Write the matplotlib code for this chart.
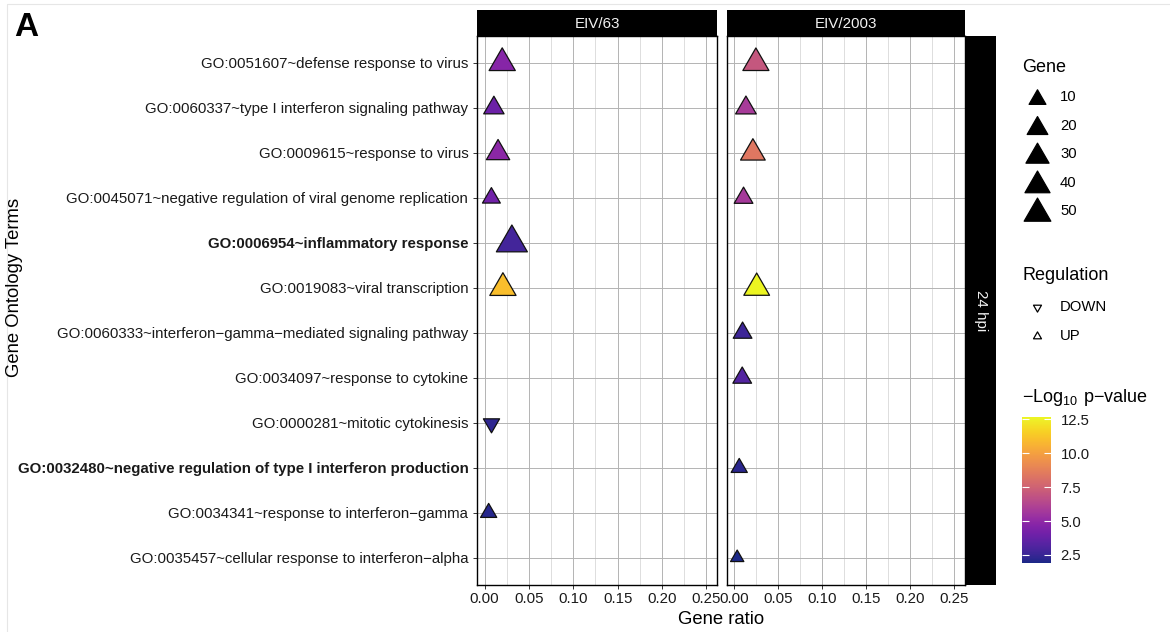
import numpy as np
import matplotlib
matplotlib.use("Agg")
import matplotlib.pyplot as plt
from matplotlib.path import Path
from matplotlib.colors import Normalize, ListedColormap
from matplotlib.cm import ScalarMappable
from matplotlib.ticker import MultipleLocator

plt.rcParams['font.family'] = ['Liberation Sans', 'DejaVu Sans']
plt.rcParams['mathtext.fontset'] = 'custom'
plt.rcParams['mathtext.rm'] = 'Liberation Sans'

nan = np.nan

terms = [
    "GO:0051607~defense response to virus",
    "GO:0060337~type I interferon signaling pathway",
    "GO:0009615~response to virus",
    "GO:0045071~negative regulation of viral genome replication",
    "GO:0006954~inflammatory response",
    "GO:0019083~viral transcription",
    "GO:0060333~interferon\u2212gamma\u2212mediated signaling pathway",
    "GO:0034097~response to cytokine",
    "GO:0000281~mitotic cytokinesis",
    "GO:0032480~negative regulation of type I interferon production",
    "GO:0034341~response to interferon\u2212gamma",
    "GO:0035457~cellular response to interferon\u2212alpha",
]
bold_terms = ["GO:0006954~inflammatory response",
              "GO:0032480~negative regulation of type I interferon production"]

panels = ["EIV/63", "EIV/2003"]
row_label = "24 hpi"

# EIV/63
eiv63_ratio = [0.0198, 0.0104, 0.0151, 0.0076, 0.0307, 0.0206, nan, nan, 0.0076, nan, 0.0045, nan]
eiv63_genes = [47, 19, 31, 12, 82, 47, nan, nan, 9, nan, 9, nan]
eiv63_logp = [4.7, 3.9, 4.9, 4.1, 2.8, 11.0, nan, nan, 2.3, nan, 2.1, nan]
eiv63_reg = ["UP", "UP", "UP", "UP", "UP", "UP", None, None, "DOWN", None, "UP", None]

# EIV/2003
eiv2003_ratio = [0.0249, 0.0136, 0.0215, 0.0109, nan, 0.0258, 0.0098, 0.0094, nan, 0.0060, nan, 0.0037]
eiv2003_genes = [46, 20, 38, 14, nan, 44, 14, 14, nan, 9, nan, 7]
eiv2003_logp = [7.0, 5.8, 8.4, 5.7, nan, 12.65, 2.6, 3.2, nan, 2.2, nan, 1.93]
eiv2003_reg = ["UP", "UP", "UP", "UP", None, "UP", "UP", "UP", None, "UP", None, "UP"]

gene_breaks = [10, 20, 30, 40, 50]
reg_levels = ["DOWN", "UP"]
logp_ticks = [2.5, 5.0, 7.5, 10.0, 12.5]
logp_lim = (1.93, 12.65)
x_ticks = [0.00, 0.05, 0.10, 0.15, 0.20, 0.25]

W, H, DPI = 1170, 632, 100
fig = plt.figure(figsize=(W / DPI, H / DPI), dpi=DPI)


def box(x0, y0, x1, y1):
    return [x0 / W, 1 - y1 / H, (x1 - x0) / W, (y1 - y0) / H]


# triangles with centroid at the point, like R pch 24/25
h = np.sqrt(3)
tri_up = Path([(0, 2 * h / 3), (-1, -h / 3), (1, -h / 3), (0, 2 * h / 3)],
              [Path.MOVETO, Path.LINETO, Path.LINETO, Path.CLOSEPOLY])
tri_down = Path([(0, -2 * h / 3), (-1, h / 3), (1, h / 3), (0, -2 * h / 3)],
                [Path.MOVETO, Path.LINETO, Path.LINETO, Path.CLOSEPOLY])
shapes = {"UP": tri_up, "DOWN": tri_down}


def gene_size(n):
    w_px = 13.3 + 17.7 * np.sqrt(np.clip((np.asarray(n, float) - 7) / 75, 0, None))
    size_pt = w_px / 0.866 / (DPI / 72)
    return size_pt ** 2


# plasma, a bit muted like the screenshot
pl = plt.get_cmap("plasma")(np.linspace(0, 1, 256))
pl[:, 1] = 0.85 * pl[:, 1] + 0.13
pl[:, 0] = 0.92 * pl[:, 0] + 0.06
cmap = ListedColormap(pl)
norm = Normalize(*logp_lim)

data = [(eiv63_ratio, eiv63_genes, eiv63_logp, eiv63_reg),
        (eiv2003_ratio, eiv2003_genes, eiv2003_logp, eiv2003_reg)]
panel_x = [(477.4, 717.2), (726.7, 965.4)]
top, bottom = 36, 584.7

ypos = np.arange(len(terms))
for k, (name, (x0, x1), (ratio, genes, logp, reg)) in enumerate(zip(panels, panel_x, data)):
    ax = fig.add_axes(box(x0, top, x1, bottom))
    ax.set_xlim(-0.0082, 0.2624)
    ax.set_ylim(len(terms) - 0.4, -0.6)
    ax.set_xticks(x_ticks)
    ax.set_xticklabels(["%.2f" % v for v in x_ticks])
    ax.xaxis.set_minor_locator(MultipleLocator(0.025))
    ax.set_yticks(ypos)
    ax.grid(True, which="major", color="#b3b3b3", lw=0.7)
    ax.grid(True, which="minor", axis="x", color="#d8d8d8", lw=0.6)
    ax.set_axisbelow(True)
    for sp in ax.spines.values():
        sp.set_color("black")
        sp.set_linewidth(1.0)
    ax.tick_params(axis="both", which="major", length=3, width=0.7, color="#333333",
                   labelsize=10.8, labelcolor="#1a1a1a", pad=2.5)
    ax.tick_params(axis="x", which="minor", length=0)
    if k == 0:
        ax.set_yticklabels(terms)
        for lab in ax.get_yticklabels():
            if lab.get_text() in bold_terms:
                lab.set_fontweight("bold")
        ax.tick_params(axis="y", pad=3.5)
    else:
        ax.tick_params(axis="y", length=0, labelleft=False)

    ratio = np.asarray(ratio, float)
    for r in reg_levels:
        m = np.array([g == r for g in reg])
        if not m.any():
            continue
        ax.scatter(ratio[m], ypos[m], s=gene_size(np.asarray(genes, float)[m]),
                   c=np.asarray(logp, float)[m], cmap=cmap, norm=norm, marker=shapes[r],
                   edgecolors="#111111", linewidths=0.9, zorder=3)

    sx = fig.add_axes(box(x0, 9.5, x1, top))
    sx.set_facecolor("black")
    sx.set_xticks([])
    sx.set_yticks([])
    for sp in sx.spines.values():
        sp.set_visible(False)
    sx.text(0.5, 0.47, name, color="#f2f2f2", fontsize=10.9, ha="center", va="center",
            transform=sx.transAxes)

rx = fig.add_axes(box(965.4, top, 995.9, bottom))
rx.set_facecolor("black")
rx.set_xticks([])
rx.set_yticks([])
for sp in rx.spines.values():
    sp.set_visible(False)
rx.text(0.5, 0.5, row_label, color="#f2f2f2", fontsize=10.9, rotation=-90,
        ha="center", va="center", transform=rx.transAxes)

# overlay for titles and legends, in pixel units
lay = fig.add_axes([0, 0, 1, 1], zorder=-1)
lay.set_xlim(0, W)
lay.set_ylim(H, 0)
lay.axis("off")
lay.plot([7, 7, W], [H, 4, 4], color="#e6e6e6", lw=0.8)
lay.text(14, 27, "A", fontsize=24, fontweight="bold", ha="left", va="center")
lay.text(15, 287, "Gene Ontology Terms", fontsize=13.3, rotation=90, ha="center", va="center")
lay.text((477.4 + 965.4) / 2, 620, "Gene ratio", fontsize=13.3, ha="center", va="center")

lay.text(1022, 67, "Gene", fontsize=13, ha="left", va="center")
for i, g in enumerate(gene_breaks):
    yy = 97 + i * 28.6
    lay.scatter([1036.7], [yy + 2], s=gene_size(g), marker=tri_up, color="black",
                edgecolor="black", linewidths=0.9)
    lay.text(1060, yy, str(g), fontsize=10.7, ha="left", va="center")

lay.text(1022, 275, "Regulation", fontsize=13, ha="left", va="center")
for i, r in enumerate(reg_levels):
    yy = 307 + i * 28.6
    lay.scatter([1036.7], [yy], s=44, marker=shapes[r], facecolor="white",
                edgecolor="black", linewidths=0.9)
    lay.text(1060, yy, r, fontsize=10.7, ha="left", va="center")

lay.text(1022, 402, r"$\mathrm{-Log}_{10}\ \mathrm{p{-}value}$", fontsize=13,
         ha="left", va="baseline")

cax = fig.add_axes(box(1021.7, 417.3, 1051, 562.7))
cb = fig.colorbar(ScalarMappable(norm=norm, cmap=cmap), cax=cax)
cb.outline.set_visible(False)
cb.set_ticks(logp_ticks)
cb.set_ticklabels(["%.1f" % v for v in logp_ticks])
cax.tick_params(axis="y", left=True, right=True, direction="in", length=5, width=0.8,
                color="white", labelsize=10.7, labelcolor="#1a1a1a", pad=7)

fig.savefig("out.png", dpi=DPI)
